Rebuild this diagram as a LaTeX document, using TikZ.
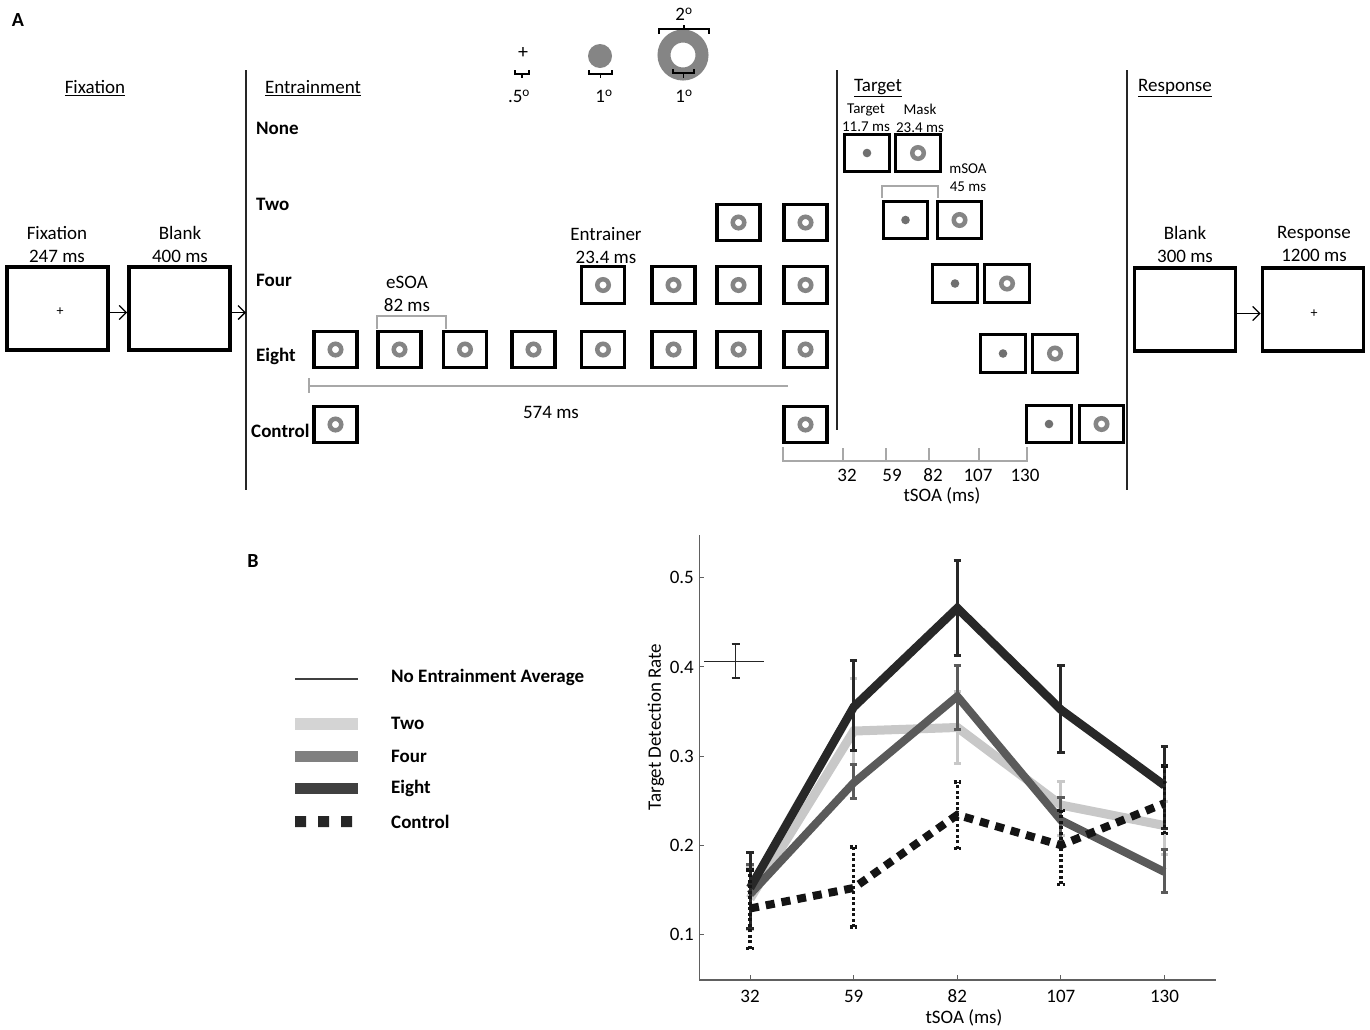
\documentclass[tikz,border=0pt]{standalone}
\usepackage{fontspec}
\setmainfont{Carlito}
\usetikzlibrary{arrows.meta}
\definecolor{ringgray}{HTML}{858585}
\definecolor{dotgray}{HTML}{707070}
\definecolor{brgray}{HTML}{A8A8A8}
\definecolor{twoc}{HTML}{C8C8C8}
\definecolor{fourc}{HTML}{5A5A5A}
\definecolor{eightc}{HTML}{282828}
\definecolor{axc}{HTML}{606060}
\definecolor{legtwo}{HTML}{D4D4D4}
\definecolor{legfour}{HTML}{808080}
\definecolor{legeight}{HTML}{404040}
\newcommand\myEbar[4]{\draw[#1] (#2,#3) -- (#2,#4) (#2-0.036,#3) -- (#2+0.036,#3) (#2-0.036,#4) -- (#2+0.036,#4);}
\begin{document}
\begin{tikzpicture}[x=1pt,y=-1pt,
  tF/.style={font=\fontsize{19}{23}\selectfont, align=center, inner sep=0pt},
  tFB/.style={font=\fontsize{19}{23}\selectfont\bfseries, inner sep=0pt},
  tS/.style={font=\fontsize{15}{18}\selectfont, align=center, inner sep=0pt},
  tP/.style={font=\fontsize{19}{23}\selectfont, inner sep=0pt},
  bigbox/.style={draw, line width=3.8pt, minimum width=101pt, minimum height=83pt, inner sep=0pt},
  sbox/.style={draw, line width=3.4pt, minimum width=43pt, minimum height=36.5pt, inner sep=0pt},
  tbox/.style={draw, line width=3.4pt, minimum width=44.5pt, minimum height=37.5pt, inner sep=0pt},
  ring/.style={draw=ringgray, line width=4.5pt},
  sepline/.style={draw=black!85, line width=1.5pt},
  gbr/.style={draw=brgray, line width=1.6pt},
  kbr/.style={draw=black, line width=1.4pt},
  arr/.style={draw=black, line width=1.3pt, -{Straight Barb[length=7pt,width=14pt,line width=1.3pt]}},
]
\useasboundingbox (0,0) rectangle (1370,1029);
\fill[white] (0,0) rectangle (1370,1029);

% ---------------- Panel A ----------------
\node[tFB, font=\fontsize{20}{24}\selectfont\bfseries] (lblA) at (18,20) {A};

\node[tF] (hfix) at (95,88) {\underline{Fixation}};
\node[tF] (hent) at (313,88) {\underline{Entrainment}};
\node[tF] (htar) at (878,88) {\underline{Target}};
\node[tF] (hres) at (1175,88) {\underline{Response}};

\draw[sepline] (246,70) -- (246,490);
\draw[sepline] (837,70) -- (837,430);
\draw[sepline] (1127,70) -- (1127,490);

% fixation / blank
\node[tF] (lfix) at (57,244) {Fixation\\247 ms};
\node[tF] (lblank1) at (180,244) {Blank\\400 ms};
\node[bigbox] (fix) at (57.5,308.5) {};
\node[tS, font=\fontsize{14}{16}\selectfont] (fixp) at (60,312) {+};
\node[bigbox] (blank1) at (179.5,308.5) {};
\coordinate (entin) at (246,312.5);
\draw[arr] ([yshift=-4pt]fix.east) -- ([yshift=-4pt]blank1.west);
\draw[arr] ([yshift=-4pt]blank1.east) -- (entin);

% row labels
\node[tFB, anchor=west] (rnone) at (256,128) {None};
\node[tFB, anchor=west] (rtwo) at (256,204) {Two};
\node[tFB, anchor=west] (rfour) at (256,280) {Four};
\node[tFB, anchor=west] (reight) at (256,356) {Eight};
\node[tFB, anchor=west] (rctrl) at (251,431) {Control};

% entrainers
\foreach \n/\x in {1/335.5,2/399.5,3/465,4/533.5,5/603,6/673.5,7/738.5,8/805.5}{
  \node[sbox] (e8\n) at (\x,349.5) {};
  \draw[ring] (e8\n.center) circle (5.75pt);
}
\foreach \n/\x in {1/603,2/673.5,3/738.5,4/805.5}{
  \node[sbox] (e4\n) at (\x,285) {};
  \draw[ring] (e4\n.center) circle (5.75pt);
}
\foreach \n/\x in {1/738.5,2/805.5}{
  \node[sbox] (e2\n) at (\x,222.5) {};
  \draw[ring] (e2\n.center) circle (5.75pt);
}
\foreach \n/\x in {1/335.5,2/805.5}{
  \node[sbox] (ec\n) at (\x,424.5) {};
  \draw[ring] (ec\n.center) circle (5.75pt);
}

\draw[gbr] (377,329) -- (377,316) -- (446,316) -- (446,329);
\node[tF] (lesoa) at (407,294) {eSOA\\82 ms};
\node[tF] (lentr) at (606,246) {Entrainer\\23.4 ms};
\draw[gbr] (309,378) -- (309,393) (309,386) -- (788,386);
\node[tF] (l574) at (551,412) {574 ms};

% target / mask
\node[tS] (lt) at (866,118) {Target\\11.7 ms};
\node[tS] (lm) at (920,118) {Mask\\23.4 ms};
\node[tbox] (tn) at (867,153) {};
\fill[dotgray] (tn.center) circle (4.3pt);
\node[tbox] (mn) at (918,153) {};
\draw[ring] (mn.center) circle (5.75pt);

\node[tbox] (tt) at (905.5,220) {};
\fill[dotgray] (tt.center) circle (4.3pt);
\node[tbox] (mt) at (959.5,220) {};
\draw[ring] (mt.center) circle (5.75pt);

\node[tbox] (tf) at (955,283.5) {};
\fill[dotgray] (tf.center) circle (4.3pt);
\node[tbox] (mf) at (1007,283.5) {};
\draw[ring] (mf.center) circle (5.75pt);

\node[tbox] (te) at (1003,353.5) {};
\fill[dotgray] (te.center) circle (4.3pt);
\node[tbox] (me) at (1055,353.5) {};
\draw[ring] (me.center) circle (5.75pt);

\node[tbox] (tc) at (1049,424) {};
\fill[dotgray] (tc.center) circle (4.3pt);
\node[tbox] (mc) at (1101.5,424) {};
\draw[ring] (mc.center) circle (5.75pt);

\draw[gbr] (882,198) -- (882,186) -- (938,186) -- (938,198);
\node[tS] (lmsoa) at (968,178) {mSOA\\45 ms};

% tSOA axis (panel A)
\draw[gbr] (783,447) -- (783,461) -- (1027,461) -- (1027,447);
\foreach \xx in {843,886,929,979}{\draw[gbr] (\xx,448) -- (\xx,461);}
\node[tF] (a32) at (847,475) {32};
\node[tF] (a59) at (892,475) {59};
\node[tF] (a82) at (933,475) {82};
\node[tF] (a107) at (978,475) {107};
\node[tF] (a130) at (1025,475) {130};
\node[tF] (atsoa) at (942,496) {tSOA (ms)};

% response side
\node[tF] (lblank2) at (1185,244) {Blank\\300 ms};
\node[tF] (lresp) at (1314,244) {Response\\1200 ms};
\node[bigbox] (blank2) at (1185,309.5) {};
\node[bigbox] (resp) at (1313,309.5) {};
\node[tS, font=\fontsize{14}{16}\selectfont] (respp) at (1314,314) {+};
\draw[arr] ([yshift=-4pt]blank2.east) -- ([yshift=-4pt]resp.west);

% stimulus sizes
\node[tS, font=\fontsize{20}{22}\selectfont] (pl0) at (523,53) {+};
\draw[kbr] (515,70) -- (515,74) -- (529,74) -- (529,70) (522,74) -- (522,78);
\node[tF] (d05) at (519,96) {.5\textsuperscript{o}};
\fill[ringgray] (600,56) circle (12pt);
\draw[kbr] (589,70) -- (589,74) -- (612,74) -- (612,70) (600.5,74) -- (600.5,78);
\node[tF] (d1a) at (604,96) {1\textsuperscript{o}};
\draw[ringgray, line width=13pt] (683,55) circle (19pt);
\draw[kbr] (659,34) -- (659,29) -- (709,29) -- (709,34) (684,29) -- (684,25);
\node[tF] (d2) at (684,14) {2\textsuperscript{o}};
\draw[kbr] (673,69) -- (673,73) -- (694,73) -- (694,69) (683.5,73) -- (683.5,78);
\node[tF] (d1b) at (684,96) {1\textsuperscript{o}};

% ---------------- Panel B ----------------
\node[tFB, font=\fontsize{20}{24}\selectfont\bfseries] (lblB) at (253,561) {B};

% legend
\draw[draw=black!75, line width=1.3pt] (295,679) -- (358,679);
\node[tFB, anchor=west] (lgn) at (391,677) {No Entrainment Average};
\fill[legtwo] (295,718) rectangle (358,730);
\node[tFB, anchor=west] (lg2) at (391,723) {Two};
\fill[legfour] (295,751) rectangle (358,762);
\node[tFB, anchor=west] (lg4) at (391,756) {Four};
\fill[legeight] (295,783) rectangle (358,794);
\node[tFB, anchor=west] (lg8) at (391,788) {Eight};
\fill[black!85] (295,816) rectangle (306,827) (318,816) rectangle (329,827) (341,816) rectangle (352,827);
\node[tFB, anchor=west] (lgc) at (391,822) {Control};

% axes
\draw[axc, line width=1.2pt] (699.5,535) -- (699.5,980) -- (1216,980);
\foreach \v/\yy in {0.1/934.3,0.2/845.2,0.3/756,0.4/666.9,0.5/577.7}{
  \draw[axc, line width=1pt] (699.5,\yy) -- (704,\yy);
  \node[tP, anchor=east] at (694,\yy) {\v};
}
\foreach \l/\xx in {32/750.1,59/853.7,82/957.3,107/1060.9,130/1164.5}{
  \draw[axc, line width=1pt] (\xx,980) -- (\xx,975);
  \node[tP] at (\xx,996.5) {\l};
}
\node[tP] (xlab) at (964,1018) {tSOA (ms)};
\node[tP, rotate=90] (ylab) at (656,727) {Target Detection Rate};

% no-entrainment crosshair
\draw[black!85, line width=1.4pt] (704,661.7) -- (764,661.7) (735.7,644) -- (735.7,678)
  (731.7,644) -- (739.7,644) (731.7,678) -- (739.7,678);

\begin{scope}[shift={(750.1,1023.45)}, x=103.6pt, y=891.5pt]
  % Two
  \draw[twoc, line width=9pt] (0,0.14) -- (1,0.328) -- (2,0.332) -- (3,0.245) -- (4,0.222);
  \myEbar{twoc, line width=3pt}{0}{0.105}{0.175}
  \myEbar{twoc, line width=3pt}{1}{0.29}{0.387}
  \myEbar{twoc, line width=3pt}{2}{0.292}{0.372}
  \myEbar{twoc, line width=3pt}{3}{0.211}{0.271}
  \myEbar{twoc, line width=3pt}{4}{0.189}{0.249}
  % Four
  \draw[fourc, line width=8pt] (0,0.145) -- (1,0.27) -- (2,0.367) -- (3,0.228) -- (4,0.17);
  \myEbar{fourc, line width=3pt}{0}{0.107}{0.178}
  \myEbar{fourc, line width=3pt}{1}{0.252}{0.29}
  \myEbar{fourc, line width=3pt}{2}{0.33}{0.402}
  \myEbar{fourc, line width=3pt}{3}{0.202}{0.253}
  \myEbar{fourc, line width=3pt}{4}{0.147}{0.195}
  % Eight
  \draw[eightc, line width=8.5pt] (0,0.152) -- (1,0.355) -- (2,0.466) -- (3,0.352) -- (4,0.267);
  \myEbar{eightc, line width=3pt}{0}{0.107}{0.192}
  \myEbar{eightc, line width=3pt}{1}{0.306}{0.407}
  \myEbar{eightc, line width=3pt}{2}{0.413}{0.519}
  \myEbar{eightc, line width=3pt}{3}{0.304}{0.401}
  \myEbar{eightc, line width=3pt}{4}{0.219}{0.311}
  % Control
  \draw[black!92, line width=8pt, dash pattern=on 9pt off 7pt] (0,0.129) -- (1,0.152) -- (2,0.234) -- (3,0.2) -- (4,0.247);
  \myEbar{black!92, line width=3.5pt, dash pattern=on 3pt off 2.5pt}{0}{0.084}{0.172}
  \myEbar{black!92, line width=3.5pt, dash pattern=on 3pt off 2.5pt}{1}{0.108}{0.198}
  \myEbar{black!92, line width=3.5pt, dash pattern=on 3pt off 2.5pt}{2}{0.196}{0.271}
  \myEbar{black!92, line width=3.5pt, dash pattern=on 3pt off 2.5pt}{3}{0.156}{0.239}
  \myEbar{black!92, line width=3.5pt, dash pattern=on 3pt off 2.5pt}{4}{0.213}{0.289}
\end{scope}
\end{tikzpicture}
\end{document}
